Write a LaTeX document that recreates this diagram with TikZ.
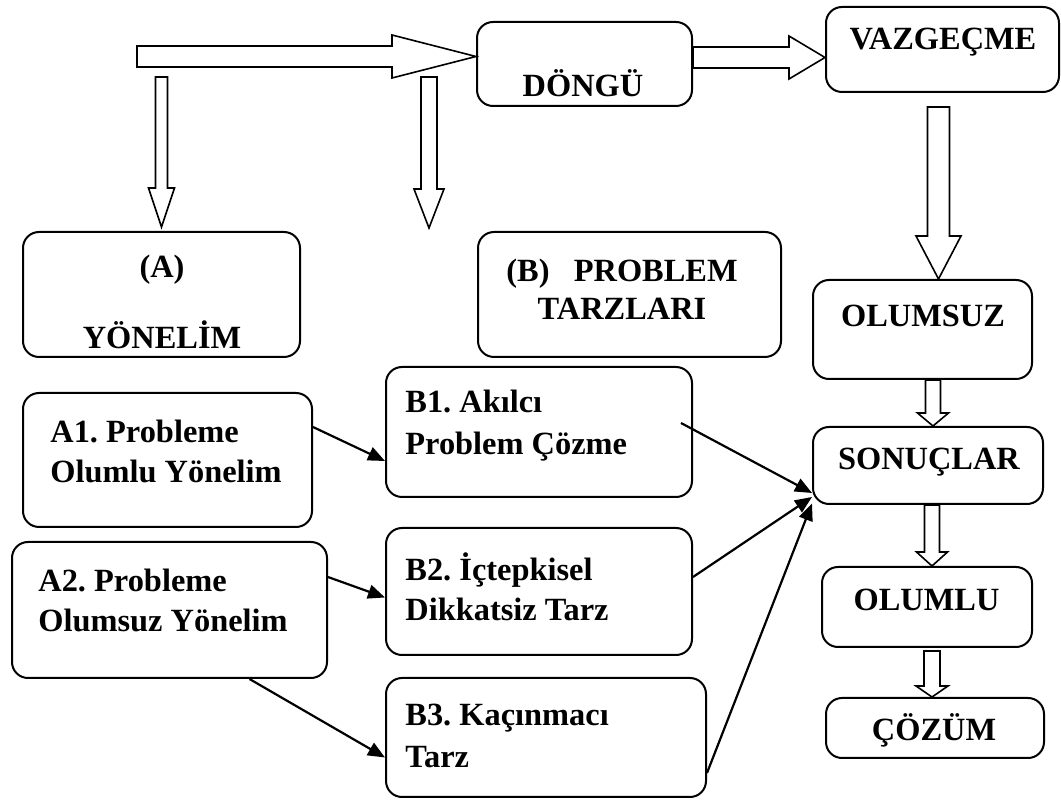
\documentclass[tikz,border=0pt]{standalone}
\usepackage{fontspec}
\setmainfont{Liberation Serif}
\usetikzlibrary{calc,arrows.meta}
\frenchspacing

% block arrows: start, tip, half shaft, half head, head length
\newcommand{\blkright}[5]{\draw[blk] let \p1=(#1), \p2=(#2) in
  (\x1,\y1+#3) -- (\x2-#5,\y1+#3) -- (\x2-#5,\y1+#4) -- (\x2,\y1)
  -- (\x2-#5,\y1-#4) -- (\x2-#5,\y1-#3) -- (\x1,\y1-#3) -- cycle;}
\newcommand{\blkdown}[5]{\draw[blk] let \p1=(#1), \p2=(#2) in
  (\x2-#3,\y1) -- (\x2+#3,\y1) -- (\x2+#3,\y2+#5) -- (\x2+#4,\y2+#5) -- (\x2,\y2)
  -- (\x2-#4,\y2+#5) -- (\x2-#3,\y2+#5) -- cycle;}

\begin{document}
\begin{tikzpicture}[x=0.5pt, y=-0.5pt, font=\bfseries\fontsize{16.2}{20}\selectfont,
    >={Triangle[length=8.5pt,width=7pt]}]
\useasboundingbox (0,0) rectangle (1061,801);
\tikzstyle{box} = [draw, line width=1pt, rounded corners=8pt, inner sep=0pt]
\tikzstyle{blk} = [draw, line width=0.8pt, fill=white, line join=miter]
\tikzstyle{txt} = [inner sep=0pt, align=left]
\tikzstyle{link} = [->, line width=1.1pt]

% kutular
\node[box, minimum width=107.5pt, minimum height=42pt] (dongu) at (584.5,64) {};
\node[box, minimum width=116.5pt, minimum height=42.5pt] (vaz) at (942.5,49.5) {};
\node[box, minimum width=138.5pt, minimum height=62.5pt] (ayon) at (161.5,294.5) {};
\node[box, minimum width=151.5pt, minimum height=62.5pt] (btarz) at (629.5,294.5) {};
\node[box, minimum width=109.5pt, minimum height=49.5pt] (olumsuz) at (922.5,329.5) {};
\node[box, minimum width=115pt, minimum height=38.5pt] (sonuc) at (928,465.5) {};
\node[box, minimum width=105pt, minimum height=40pt] (olumlu) at (927,607) {};
\node[box, minimum width=109pt, minimum height=30pt] (cozum) at (935,728) {};
\node[box, minimum width=144.5pt, minimum height=67pt] (a1) at (167.5,460) {};
\node[box, minimum width=157.5pt, minimum height=68pt] (a2) at (169.5,610) {};
\node[box, minimum width=153pt, minimum height=65pt] (b1) at (539,432) {};
\node[box, minimum width=153pt, minimum height=63.5pt] (b2) at (539,591.5) {};
\node[box, minimum width=160pt, minimum height=59.5pt] (b3) at (546,737.5) {};

% yazilar
\node[txt] (donguT) at (583,83) {DÖNGÜ};
\node[txt] (vazT) at (943,42) {VAZGEÇME};
\node[txt] (ayonA) at (162,270) {(A)};
\node[txt] (ayonT) at (162,335) {YÖNELİM};
\node[txt, align=center] (btarzT) at (622,289) {(B)\ \ \ PROBLEM\\[-1pt]TARZLARI};
\node[txt] (olumsuzT) at (923,316) {OLUMSUZ};
\node[txt] (sonucT) at (929,462) {SONUÇLAR};
\node[txt] (olumluT) at (926.5,600) {OLUMLU};
\node[txt] (cozumT) at (934,730) {ÇÖZÜM};
\node[txt, anchor=west] (a1T) at (50,451) {A1. Probleme\\Olumlu Yönelim};
\node[txt, anchor=west] (a2T) at (38,600) {A2. Probleme\\Olumsuz Yönelim};
\node[txt, anchor=west] (b1T) at (405,426) {B1. Akılcı\\[1pt]Problem Çözme};
\node[txt, anchor=west] (b2T) at (405,587) {B2. İçtepkisel\\Dikkatsiz Tarz};
\node[txt, anchor=west] (b3T) at (405,736) {B3. Kaçınmacı\\[1pt]Tarz};

% blok oklar
\coordinate (st) at (137,56.5);
\coordinate (d1) at (162,77);
\coordinate (d2) at (429,77);
\coordinate (d2e) at (429,228);
\blkright{st}{dongu.west |- st}{5.25pt}{10.75pt}{42pt}
\blkright{[yshift=3.25pt]dongu.east}{vaz.west}{5.25pt}{10.75pt}{18pt}
\blkdown{d1}{[yshift=2pt]ayon.north}{3pt}{6.5pt}{19.5pt}
\blkdown{d2}{d2e}{4pt}{7.5pt}{19.5pt}
\blkdown{[yshift=-7pt]vaz.south}{[xshift=8pt]olumsuz.north}{5.5pt}{11.25pt}{21.5pt}
\blkdown{olumsuz.south}{[xshift=2.5pt]sonuc.north}{3.75pt}{7.75pt}{6.5pt}
\blkdown{sonuc.south}{[xshift=2.5pt]olumlu.north}{3.75pt}{7.75pt}{7pt}
\blkdown{[yshift=-1.5pt]olumlu.south}{[xshift=-1.5pt]cozum.north}{4pt}{8pt}{5.5pt}

% ince oklar
\draw[link] ([yshift=16.5pt]a1.east) -- ([yshift=-14.5pt]b1.west);
\draw[link] ([yshift=16.5pt]a2.east) -- ([yshift=-3pt]b2.west);
\draw[link] ([xshift=40pt]a2.south) -- ([yshift=-10pt]b3.west);
\draw[link] ([xshift=-6pt, yshift=4.5pt]b1.east) -- ([yshift=-13.75pt]sonuc.west);
\draw[link] ([yshift=7.25pt]b2.east) -- ([yshift=-15.75pt]sonuc.west);
\draw[link] ([yshift=-17.75pt]b3.east) -- ([yshift=-19pt]sonuc.west);
\end{tikzpicture}
\end{document}
